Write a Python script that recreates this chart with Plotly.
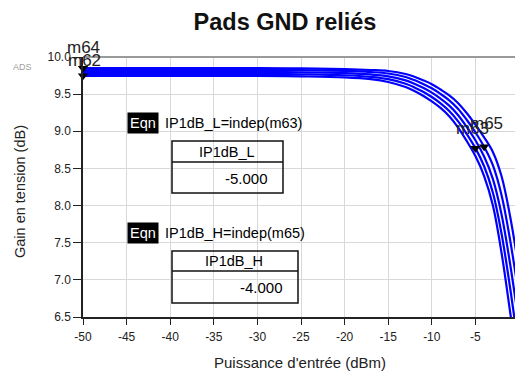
import plotly.graph_objects as go

# ── Data ──────────────────────────────────────────────────────────────────────
pin_dbm = [-50, -40, -30, -25, -20, -17, -15, -13, -12, -11, -10,
           -9, -8, -7, -6, -5, -4, -3, -2, -1, 0]

gain_1 = [9.850, 9.850, 9.850, 9.847, 9.837, 9.825, 9.812, 9.771, 9.734, 9.687, 9.634,
          9.562, 9.483, 9.382, 9.246, 9.090, 8.918, 8.722, 8.394, 7.842, 7.130]
gain_2 = [9.827, 9.827, 9.827, 9.823, 9.812, 9.797, 9.778, 9.730, 9.689, 9.638, 9.579,
          9.503, 9.416, 9.303, 9.155, 8.987, 8.791, 8.543, 8.139, 7.523, 6.767]
gain_3 = [9.800, 9.800, 9.800, 9.795, 9.783, 9.765, 9.740, 9.685, 9.640, 9.585, 9.520,
          9.440, 9.345, 9.220, 9.060, 8.880, 8.660, 8.360, 7.880, 7.200, 6.400]
gain_4 = [9.773, 9.773, 9.773, 9.767, 9.754, 9.733, 9.702, 9.640, 9.591, 9.532, 9.461,
          9.377, 9.274, 9.137, 8.965, 8.773, 8.529, 8.177, 7.621, 6.877, 6.033]
gain_5 = [9.746, 9.746, 9.746, 9.739, 9.725, 9.701, 9.664, 9.595, 9.542, 9.479, 9.402,
          9.314, 9.203, 9.054, 8.870, 8.666, 8.398, 8.004, 7.362, 6.554, 5.720]
curves = [gain_1, gain_2, gain_3, gain_4, gain_5]

marker_names = ["m64", "m62", "m63", "m65"]
marker_x = [-50, -50, -5, -4]
marker_y = [9.850, 9.746, 8.773, 8.791]

ip1db_l = -5.000
ip1db_h = -4.000

x_ticks = [-50, -45, -40, -35, -30, -25, -20, -15, -10, -5]
x_tick_labels = ["-50", "-45", "-40", "-35", "-30", "-25", "-20", "-15", "-10", "-5"]
y_ticks = [6.5, 7.0, 7.5, 8.0, 8.5, 9.0, 9.5, 10.0]
y_tick_labels = ["6.5", "7.0", "7.5", "8.0", "8.5", "9.0", "9.5", "10.0"]

# ── Geometry (pixels of the 515x372 page) ─────────────────────────────────────
W, H = 515, 372
L, T, B, R = 83, 57, 317, 515   # plot box


def px(x):
    return (x - L) / (R - L)


def py(y):
    return (B - y) / (B - T)


FONT = "Liberation Sans, Arial, sans-serif"
fig = go.Figure()

for g in curves:
    fig.add_trace(go.Scatter(x=pin_dbm, y=g, mode="lines", line_shape="spline",
                             line=dict(color="#0000ff", width=2.2), showlegend=False,
                             hoverinfo="skip"))

fig.add_trace(go.Scatter(x=marker_x, y=marker_y, mode="markers", showlegend=False,
                         marker=dict(symbol="triangle-down", size=9, color="black"),
                         cliponaxis=False, hoverinfo="skip"))

ann = []
# marker labels
label_shift = {"m64": (0, 21), "m62": (1, 15), "m63": (-3, 20), "m65": (2, 23)}
for name, mx, my in zip(marker_names, marker_x, marker_y):
    dx, dy = label_shift[name]
    ann.append(dict(x=mx, y=my, xref="x", yref="y", text=name, showarrow=False,
                    xanchor="center", yanchor="middle", xshift=dx, yshift=dy,
                    font=dict(size=17, color="#222", family=FONT)))

shapes = []
# equation blocks + tables
blocks = [
    ("IP1dB_L", "m63", ip1db_l, 123, 141, 162, 193, 283),
    ("IP1dB_H", "m65", ip1db_h, 233, 251, 271, 303, 298),
]
for var, mk, val, eq_y, t_top, t_mid, t_bot, t_right in blocks:
    ann.append(dict(x=px(127), y=py(eq_y), xref="paper", yref="paper", text="Eqn",
                    showarrow=False, xanchor="left", yanchor="middle", bgcolor="black",
                    borderpad=2, font=dict(size=14.5, color="white", family=FONT)))
    ann.append(dict(x=px(163), y=py(eq_y), xref="paper", yref="paper",
                    text=f"{var}=indep({mk})", showarrow=False, xanchor="left",
                    yanchor="middle", font=dict(size=14.5, color="black", family=FONT)))
    shapes.append(dict(type="rect", xref="paper", yref="paper", x0=px(172), x1=px(t_right),
                       y0=py(t_bot), y1=py(t_top), line=dict(color="#111", width=1.5)))
    shapes.append(dict(type="line", xref="paper", yref="paper", x0=px(172), x1=px(t_right),
                       y0=py(t_mid), y1=py(t_mid), line=dict(color="#111", width=1.5)))
    ann.append(dict(x=px((172 + t_right) / 2 - 1), y=py((t_top + t_mid) / 2), xref="paper",
                    yref="paper", text=var, showarrow=False, xanchor="center",
                    yanchor="middle", font=dict(size=14.5, color="black", family=FONT)))
    ann.append(dict(x=px(t_right - 13), y=py((t_mid + t_bot) / 2 + 0.5), xref="paper",
                    yref="paper", text=f"{val:.3f}", showarrow=False, xanchor="right",
                    yanchor="middle", font=dict(size=15, color="black", family=FONT)))

# top border of the plot frame
shapes.append(dict(type="line", xref="paper", yref="paper", x0=0, x1=1, y0=1, y1=1,
                   line=dict(color="#9a9a9a", width=2)))

# axis titles + watermark
ann.append(dict(x=px(300), y=py(362), xref="paper", yref="paper",
                text="Puissance d'entrée (dBm)", showarrow=False,
                xanchor="center", yanchor="middle",
                font=dict(size=15, color="#222", family=FONT)))
ann.append(dict(x=px(20), y=py(191), xref="paper", yref="paper",
                text="Gain en tension (dB)", showarrow=False, textangle=-90,
                xanchor="center", yanchor="middle",
                font=dict(size=14.5, color="#222", family=FONT)))
ann.append(dict(x=px(22), y=py(67), xref="paper", yref="paper", text="ADS",
                showarrow=False, xanchor="center", yanchor="middle",
                font=dict(size=9, color="#a0a0a0", family=FONT)))

fig.update_layout(
    width=W, height=H,
    margin=dict(l=L, r=W - R, t=T, b=H - B),
    paper_bgcolor="white", plot_bgcolor="white",
    title=dict(text="<b>Pads GND reliés</b>", x=285 / W, y=1 - 22 / H,
               xanchor="center", yanchor="middle",
               font=dict(size=23.5, color="#111", family=FONT)),
    annotations=ann,
    shapes=shapes,
    showlegend=False,
)
fig.update_xaxes(range=[-50, -50 + (R - L) / 8.72], tickvals=x_ticks, ticktext=x_tick_labels,
                 showgrid=True, gridcolor="#d8d8d8", gridwidth=1,
                 showline=True, linecolor="#222", linewidth=1.5,
                 ticks="outside", ticklen=6, tickcolor="#222", ticklabelstandoff=2,
                 tickfont=dict(size=12, color="#222", family=FONT), zeroline=False)
fig.update_yaxes(range=[6.5, 10.0], tickvals=y_ticks, ticktext=y_tick_labels,
                 showgrid=True, gridcolor="#d8d8d8", gridwidth=1,
                 showline=True, linecolor="#222", linewidth=1.5,
                 ticks="outside", ticklen=8, tickcolor="#222",
                 tickfont=dict(size=12, color="#222", family=FONT), zeroline=False)

# the page body's default 8px margin would push the figure off the window
fig.write_html("out.html", config={"displayModeBar": False},
               post_script="document.body.style.margin = '0';")
